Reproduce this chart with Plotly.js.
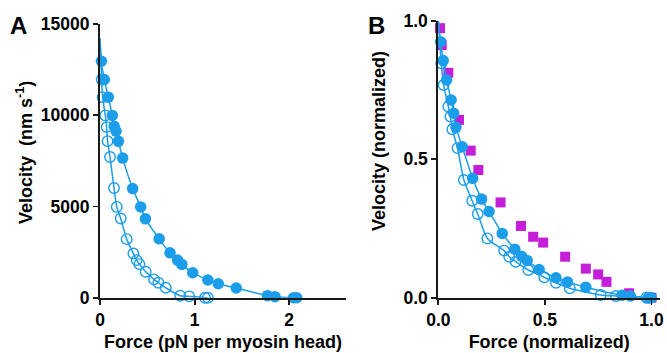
<!DOCTYPE html>
<html>
<head>
<meta charset="utf-8">
<script src="https://cdn.plot.ly/plotly-3.0.1.min.js"></script>
<style>html,body{margin:0;padding:0;background:#fff;}#chart{width:667px;height:353px;}</style>
</head>
<body>
<div id="chart"></div>
<script>
// Panel A: force (pN per myosin head) vs velocity (nm/s)
var aFilledX = [0.015, 0.045, 0.088, 0.13, 0.15, 0.17, 0.195, 0.24, 0.345, 0.43, 0.48, 0.625, 0.74, 0.82, 0.865, 0.98, 1.14, 1.25, 1.44, 1.77, 1.85, 2.045, 2.08];
var aFilledY = [12960, 11960, 10990, 9990, 9390, 9130, 8570, 7650, 5980, 4975, 4320, 3225, 2460, 2060, 1825, 1370, 970, 765, 530, 110, 55, 0, 0];
var aOpenX = [0.018, 0.028, 0.056, 0.07, 0.08, 0.106, 0.148, 0.177, 0.219, 0.282, 0.353, 0.388, 0.416, 0.483, 0.571, 0.617, 0.695, 0.847, 0.942, 1.11, 1.14];
var aOpenY = [11960, 10990, 9990, 9350, 8580, 7710, 6015, 4975, 4340, 3210, 2425, 2060, 1840, 1420, 1005, 820, 545, 110, 75, 0, 0];
var aFitStartY = 14200;

// Panel B: normalized force vs normalized velocity
var bSquareX = [0.008, 0.016, 0.047, 0.097, 0.152, 0.188, 0.292, 0.388, 0.445, 0.492, 0.595, 0.692, 0.75, 0.789, 0.895, 1.0];
var bSquareY = [0.973, 0.912, 0.812, 0.642, 0.531, 0.461, 0.344, 0.259, 0.220, 0.199, 0.148, 0.105, 0.084, 0.057, 0.016, 0.0];
var bFilledX = [0.011, 0.023, 0.039, 0.06, 0.072, 0.083, 0.112, 0.161, 0.203, 0.238, 0.30, 0.359, 0.39, 0.417, 0.473, 0.552, 0.606, 0.692, 0.862, 0.901, 0.985, 1.0];
var bFilledY = [0.924, 0.856, 0.786, 0.714, 0.666, 0.615, 0.545, 0.431, 0.356, 0.311, 0.232, 0.175, 0.150, 0.134, 0.102, 0.072, 0.057, 0.038, 0.009, 0.006, 0.0, 0.0];
var bOpenX = [0.014, 0.025, 0.047, 0.057, 0.066, 0.09, 0.12, 0.159, 0.185, 0.23, 0.309, 0.333, 0.363, 0.422, 0.497, 0.552, 0.617, 0.762, 0.833, 0.976, 0.99];
var bOpenY = [0.846, 0.768, 0.69, 0.654, 0.608, 0.54, 0.425, 0.35, 0.302, 0.214, 0.17, 0.148, 0.13, 0.1, 0.074, 0.054, 0.034, 0.01, 0.006, 0.0, 0.0];
var bFitStartY = 1.0;

var blue = '#1C9DEA';
var magenta = '#C51ED8';
var axisColor = '#1a1a1a';
var fam = 'Liberation Sans, Arial, sans-serif';

function withStart(x, y, y0) { return {x: [0].concat(x), y: [y0].concat(y)}; }

var fA1 = withStart(aFilledX, aFilledY, aFitStartY);
var fA2 = withStart(aOpenX, aOpenY, aFitStartY);
var fB1 = withStart(bFilledX, bFilledY, bFitStartY);
var fB2 = withStart(bOpenX, bOpenY, bFitStartY);

function fitLine(f, xa, ya) {
  return {x: f.x, y: f.y, xaxis: xa, yaxis: ya, mode: 'lines', type: 'scatter',
    line: {color: blue, width: 1.5, shape: 'spline', smoothing: 0.6}, hoverinfo: 'skip', cliponaxis: false, showlegend: false};
}
function filled(x, y, xa, ya) {
  return {x: x, y: y, xaxis: xa, yaxis: ya, mode: 'markers', type: 'scatter', cliponaxis: false, showlegend: false,
    marker: {symbol: 'circle', size: 11.5, color: blue, line: {width: 0}}};
}
function open(x, y, xa, ya) {
  return {x: x, y: y, xaxis: xa, yaxis: ya, mode: 'markers', type: 'scatter', cliponaxis: false, showlegend: false,
    marker: {symbol: 'circle-open', size: 10.5, color: blue, line: {width: 1.4, color: blue}}};
}

var data = [
  fitLine(fA1, 'x', 'y'), fitLine(fA2, 'x', 'y'),
  open(aOpenX, aOpenY, 'x', 'y'), filled(aFilledX, aFilledY, 'x', 'y'),
  {x: bSquareX, y: bSquareY, xaxis: 'x2', yaxis: 'y2', mode: 'markers', type: 'scatter', cliponaxis: false, showlegend: false,
    marker: {symbol: 'square', size: 10, color: magenta, line: {width: 0}}},
  fitLine(fB1, 'x2', 'y2'), fitLine(fB2, 'x2', 'y2'),
  open(bOpenX, bOpenY, 'x2', 'y2'), filled(bFilledX, bFilledY, 'x2', 'y2')
];

var tickFont = {family: fam, size: 17.5, color: '#000', weight: 'bold'};
var titleFont = {family: fam, size: 18, color: '#000', weight: 'bold'};

function axis(extra) {
  var base = {showline: true, linecolor: axisColor, linewidth: 2, ticks: 'outside', ticklen: 5, tickwidth: 1.8,
    tickcolor: axisColor, showgrid: false, zeroline: false, tickfont: tickFont, fixedrange: true};
  for (var k in extra) base[k] = extra[k];
  return base;
}

var layout = {
  width: 667, height: 353,
  margin: {l: 0, r: 0, t: 0, b: 0},
  paper_bgcolor: '#fff', plot_bgcolor: '#fff',
  showlegend: false,
  xaxis: axis({domain: [100/667, 346/667], range: [0, 2.6], tickvals: [0, 1, 2], ticktext: ['0', '1', '2'], anchor: 'y',
    title: {text: 'Force (pN per myosin head)', font: titleFont, standoff: 7}}),
  yaxis: axis({domain: [(353-297.7)/353, (353-24)/353], range: [0, 15000], tickvals: [0, 5000, 10000, 15000],
    ticktext: ['0', '5000', '10000', '15000'], anchor: 'x'}),
  xaxis2: axis({domain: [438.3/667, 660/667], range: [0, 1.04], tickvals: [0, 0.5, 1], ticktext: ['0.0', '0.5', '1.0'], anchor: 'y2',
    title: {text: 'Force (normalized)', font: titleFont, standoff: 7}}),
  yaxis2: axis({domain: [(353-297.7)/353, (353-20.7)/353], range: [0, 1.0], tickvals: [0, 0.5, 1], ticktext: ['0.0', '0.5', '1.0'], anchor: 'x2'}),
  annotations: [
    {text: 'A', x: 18/667, y: (353-25)/353, xref: 'paper', yref: 'paper', showarrow: false, xanchor: 'center', yanchor: 'middle',
      font: {family: fam, size: 24, color: '#000', weight: 'bold'}},
    {text: 'B', x: 376/667, y: (353-25)/353, xref: 'paper', yref: 'paper', showarrow: false, xanchor: 'center', yanchor: 'middle',
      font: {family: fam, size: 24, color: '#000', weight: 'bold'}},
    {text: 'Velocity  (nm s<sup>-1</sup>)', x: 24/667, y: (353-153)/353, xref: 'paper', yref: 'paper', showarrow: false,
      textangle: -90, xanchor: 'center', yanchor: 'middle', font: titleFont},
    {text: 'Velocity (normalized)', x: 379/667, y: (353-141)/353, xref: 'paper', yref: 'paper', showarrow: false,
      textangle: -90, xanchor: 'center', yanchor: 'middle', font: titleFont}
  ]
};

Plotly.newPlot('chart', data, layout, {displayModeBar: false, staticPlot: true});
</script>
</body>
</html>
